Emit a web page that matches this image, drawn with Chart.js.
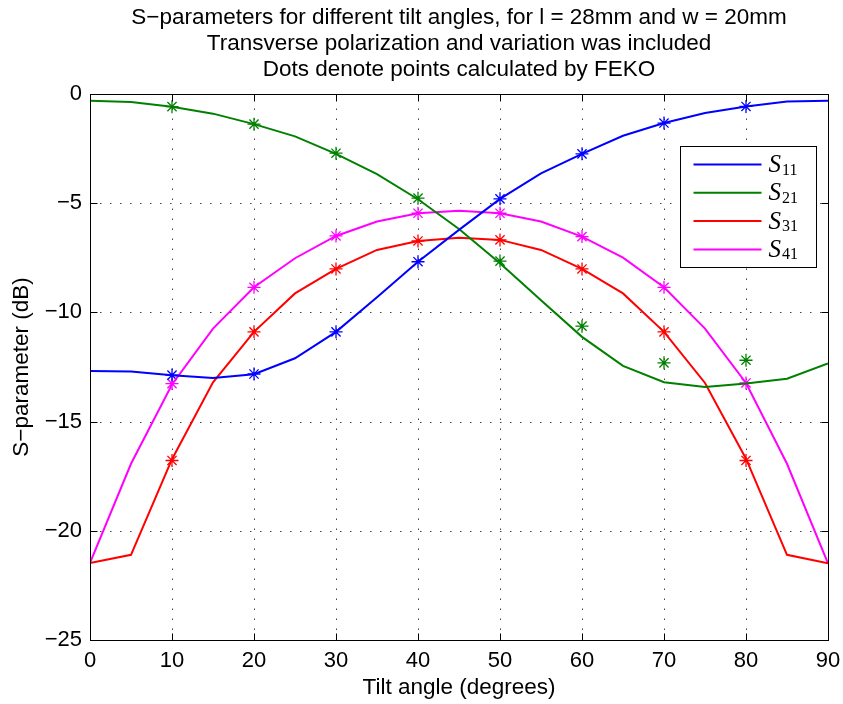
<!DOCTYPE html>
<html>
<head>
<meta charset="utf-8">
<title>S-parameters vs tilt angle</title>
<script src="https://cdn.jsdelivr.net/npm/chart.js@4.4.1/dist/chart.umd.min.js"></script>
<style>
  html, body { margin: 0; padding: 0; background: #fff; }
  #wrap { width: 843px; height: 704px; }
</style>
</head>
<body>
<div id="wrap"><canvas id="chart" width="843" height="704"></canvas></div>
<script>
// tilt angles (degrees) for the solid lines
const angles = [0, 5, 10, 15, 20, 25, 30, 35, 40, 45, 50, 55, 60, 65, 70, 75, 80, 85, 90];
const s11 = [-12.68, -12.71, -12.88, -13.0, -12.83, -12.1, -10.89, -9.31, -7.68, -6.22, -4.80, -3.63, -2.74, -1.91, -1.33, -0.87, -0.57, -0.34, -0.31];
const s21 = [-0.31, -0.37, -0.58, -0.90, -1.38, -1.94, -2.74, -3.67, -4.82, -6.18, -7.75, -9.44, -11.12, -12.45, -13.2, -13.41, -13.26, -13.04, -12.34];
const s31 = [-21.47, -21.1, -16.72, -13.2, -10.89, -9.13, -8.01, -7.14, -6.73, -6.58, -6.68, -7.14, -8.01, -9.13, -10.89, -13.23, -16.7, -21.1, -21.49];
const s41 = [-21.47, -16.93, -13.3, -10.74, -8.85, -7.52, -6.5, -5.84, -5.46, -5.35, -5.46, -5.84, -6.53, -7.49, -8.85, -10.74, -13.23, -16.93, -21.49];

// points calculated by FEKO (drawn as asterisks)
const fekoAngles = [10, 20, 30, 40, 50, 60, 70, 80];
const fekoS11 = [-12.87, -12.82, -10.89, -7.68, -4.80, -2.74, -1.33, -0.57];
const fekoS21 = [-0.58, -1.38, -2.71, -4.77, -7.65, -10.63, -12.31, -12.19];
const fekoS31 = [-16.78, -10.89, -8.01, -6.73, -6.68, -8.01, -10.89, -16.78];
const fekoS41 = [-13.26, -8.85, -6.5, -5.46, -5.46, -6.53, -8.85, -13.23];

const xTicks = [0, 10, 20, 30, 40, 50, 60, 70, 80, 90];
const yTicks = [0, -5, -10, -15, -20, -25];

const seriesNames = ['11', '21', '31', '41'];
const seriesColors = ['#0000ff', '#008000', '#ff0000', '#ff00ff'];

const titleLines = [
  'S\u2212parameters for different tilt angles, for l = 28mm and w = 20mm',
  'Transverse polarization and variation was included',
  'Dots denote points calculated by FEKO'
];

const FONT = '"Liberation Sans", Arial, Helvetica, sans-serif';
const minus = v => (v < 0 ? '\u2212' + Math.abs(v) : String(v));

const pairs = (xs, ys) => xs.map((x, i) => ({ x: x, y: ys[i] }));

const lineSets = [s11, s21, s31, s41].map((ys, i) => ({
  label: 'S' + seriesNames[i],
  data: pairs(angles, ys),
  borderColor: seriesColors[i],
  borderWidth: 2,
  pointRadius: 0,
  tension: 0,
  fill: false
}));

const dotSets = [fekoS11, fekoS21, fekoS31, fekoS41].map((ys, i) => ({
  label: 'FEKO S' + seriesNames[i],
  data: pairs(fekoAngles, ys),
  showLine: false,
  borderColor: seriesColors[i],
  backgroundColor: seriesColors[i],
  pointStyle: 'star',
  pointRadius: 6.5,
  pointBorderWidth: 1.3
}));

// frame, dotted grid, inward ticks, title and legend drawn the matlab way
const matlabFrame = {
  id: 'matlabFrame',
  beforeDatasetsDraw(chart) {
    const { ctx, chartArea: a, scales: { x, y } } = chart;
    ctx.save();
    ctx.strokeStyle = '#444';
    ctx.lineWidth = 1;
    ctx.setLineDash([1.5, 8.5]);
    xTicks.forEach(t => {
      const px = Math.round(x.getPixelForValue(t)) + 0.5;
      ctx.beginPath(); ctx.moveTo(px, a.bottom); ctx.lineTo(px, a.top); ctx.stroke();
    });
    yTicks.forEach(t => {
      const py = Math.round(y.getPixelForValue(t)) + 0.5;
      ctx.beginPath(); ctx.moveTo(a.left, py); ctx.lineTo(a.right, py); ctx.stroke();
    });
    ctx.restore();
  },
  afterDatasetsDraw(chart) {
    const { ctx, chartArea: a, scales: { x, y } } = chart;
    ctx.save();
    ctx.strokeStyle = '#000';
    ctx.lineWidth = 1;
    const L = Math.round(a.left) + 0.5, R = Math.round(a.right) + 0.5;
    const T = Math.round(a.top) + 0.5, B = Math.round(a.bottom) + 0.5;
    ctx.strokeRect(L, T, R - L, B - T);
    const tl = 7;
    ctx.beginPath();
    xTicks.forEach(t => {
      const px = Math.round(x.getPixelForValue(t)) + 0.5;
      ctx.moveTo(px, B); ctx.lineTo(px, B - tl);
      ctx.moveTo(px, T); ctx.lineTo(px, T + tl);
    });
    yTicks.forEach(t => {
      const py = Math.round(y.getPixelForValue(t)) + 0.5;
      ctx.moveTo(L, py); ctx.lineTo(L + tl, py);
      ctx.moveTo(R, py); ctx.lineTo(R - tl, py);
    });
    ctx.stroke();

    // title
    ctx.fillStyle = '#000';
    ctx.font = '22.5px ' + FONT;
    ctx.textAlign = 'center';
    ctx.textBaseline = 'middle';
    const cx = (a.left + a.right) / 2;
    titleLines.forEach((s, i) => ctx.fillText(s, cx, 18 + i * 26));

    // legend
    const bx = Math.round(a.right) - 148 + 0.5, by = Math.round(a.top) + 52 + 0.5;
    const bw = 136, bh = 121;
    ctx.fillStyle = '#fff';
    ctx.fillRect(bx, by, bw, bh);
    ctx.strokeStyle = '#000';
    ctx.strokeRect(bx, by, bw, bh);
    seriesNames.forEach((n, i) => {
      const ly = by + 18 + i * 28.3;
      ctx.strokeStyle = seriesColors[i];
      ctx.lineWidth = 2;
      ctx.beginPath(); ctx.moveTo(bx + 13, ly); ctx.lineTo(bx + 81, ly); ctx.stroke();
      ctx.fillStyle = '#000';
      ctx.textAlign = 'left';
      ctx.textBaseline = 'alphabetic';
      ctx.font = 'italic 25px "Liberation Serif", "Times New Roman", serif';
      ctx.fillText('S', bx + 88, ly + 7.5);
      const sw = ctx.measureText('S').width;
      ctx.font = '16px "Liberation Serif", "Times New Roman", serif';
      ctx.fillText(n, bx + 88 + sw + 1, ly + 10);
    });
    ctx.restore();
  }
};

new Chart(document.getElementById('chart'), {
  type: 'line',
  data: { datasets: lineSets.concat(dotSets) },
  options: {
    responsive: false,
    animation: false,
    devicePixelRatio: 1,
    layout: { padding: { top: 94, right: 15, left: 0, bottom: 0 } },
    plugins: {
      legend: { display: false },
      title: { display: false },
      tooltip: { enabled: false }
    },
    scales: {
      x: {
        type: 'linear',
        min: 0,
        max: 90,
        afterFit: s => { s.height = 64; s.paddingLeft = 0; s.paddingRight = 0; },
        afterBuildTicks: s => { s.ticks = xTicks.map(v => ({ value: v })); },
        ticks: { color: '#000', font: { family: FONT, size: 22 }, padding: 8, maxRotation: 0, callback: minus },
        grid: { display: false, drawTicks: false },
        border: { display: false },
        title: {
          display: true,
          text: 'Tilt angle (degrees)',
          color: '#000',
          font: { family: FONT, size: 22.5 },
          padding: { top: 0, bottom: 3 }
        }
      },
      y: {
        type: 'linear',
        min: -25,
        max: 0,
        afterFit: s => { s.width = 90; s.paddingTop = 0; s.paddingBottom = 0; },
        afterBuildTicks: s => { s.ticks = yTicks.map(v => ({ value: v })); },
        ticks: { color: '#000', font: { family: FONT, size: 22 }, padding: 8, callback: minus },
        grid: { display: false, drawTicks: false },
        border: { display: false },
        title: {
          display: true,
          text: 'S\u2212parameter (dB)',
          color: '#000',
          font: { family: FONT, size: 22.5 },
          padding: { top: 8, bottom: 0 }
        }
      }
    }
  },
  plugins: [matlabFrame]
});
</script>
</body>
</html>
